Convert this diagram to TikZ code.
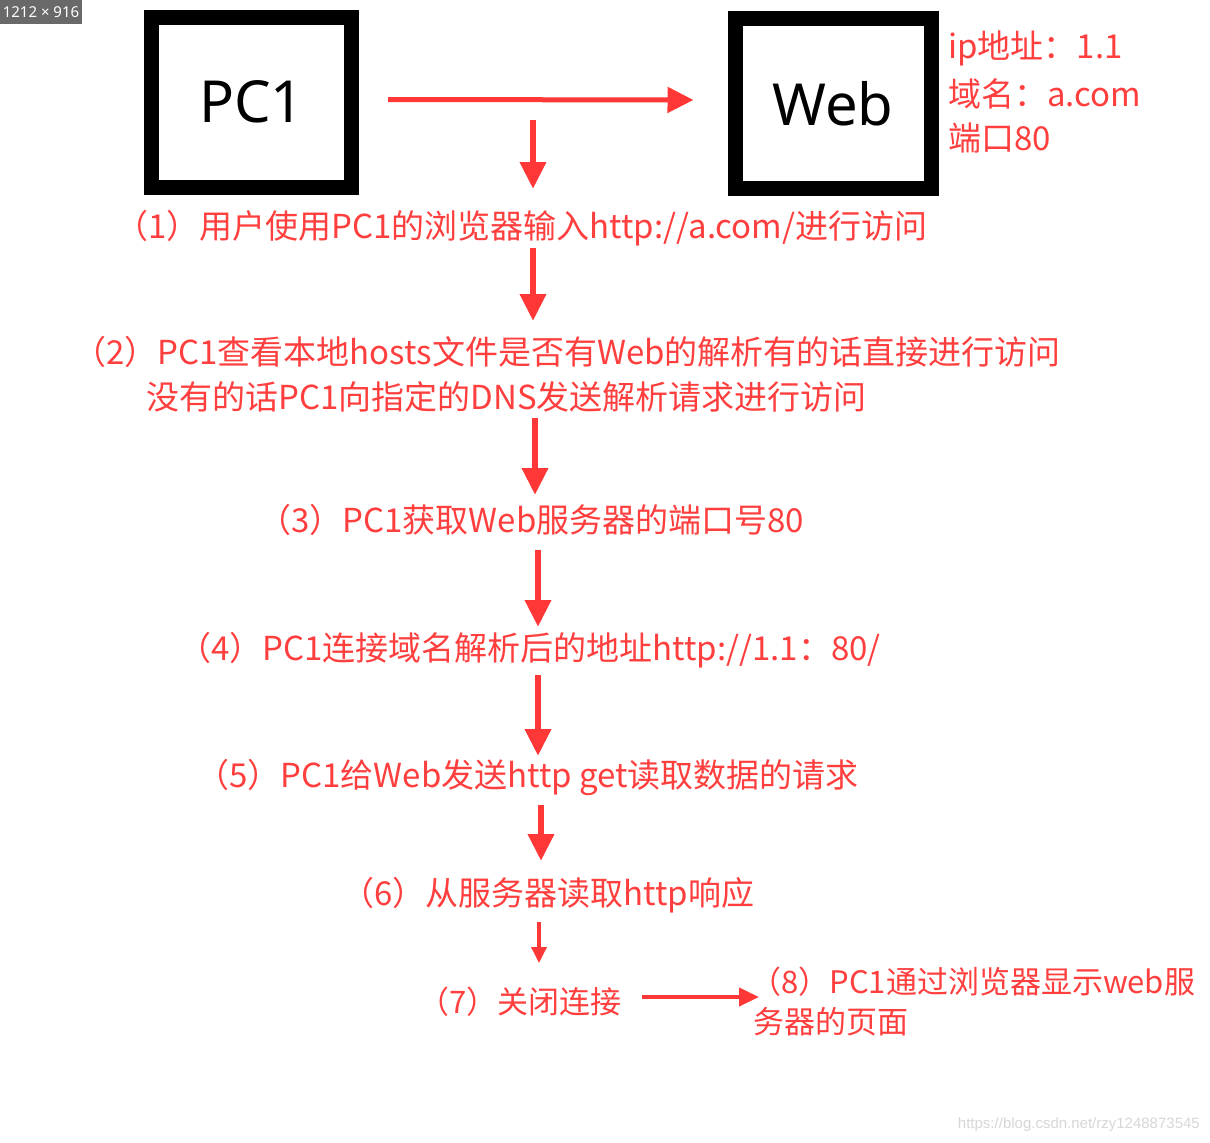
\documentclass[tikz,border=0pt]{standalone}
\usepackage{fontspec}
\setmainfont{Noto Sans}
\newfontfamily\cjk{Noto Sans CJK SC}
\newfontfamily\wmfont{Liberation Sans}
\usetikzlibrary{arrows.meta}
\definecolor{stepred}{RGB}{255,62,62}
\definecolor{arrred}{RGB}{255,55,55}
\definecolor{badgegray}{RGB}{105,105,105}
\definecolor{wmgray}{RGB}{215,215,215}
\begin{document}
\begin{tikzpicture}[x=1pt,y=-1pt,
  hostbox/.style={draw=black,line width=15pt,minimum width=200pt,minimum height=170pt,inner sep=0pt,
    font=\fontsize{58}{60}\selectfont},
  steptext/.style={text=stepred,inner sep=0pt,anchor=west,font=\cjk\fontsize{33}{36}\selectfont},
  smallstep/.style={steptext,font=\cjk\fontsize{31}{34}\selectfont},
  bigdown/.style={draw=arrred,line width=6.5pt,-{Triangle[width=25pt,length=27pt]}},
  smalldown/.style={draw=arrred,line width=3.5pt,-{Triangle[width=15pt,length=16pt]}},
  sidearrow/.style={draw=arrred,line width=5pt,-{Triangle[width=25pt,length=26pt]}},
  sidearrowsmall/.style={draw=arrred,line width=4pt,-{Triangle[width=18pt,length=20pt]}}]
\useasboundingbox (0,0) rectangle (1210,1143);
\fill[white] (0,0) rectangle (1210,1143);

% badge
\fill[badgegray] (0,0) rectangle (82,24);
\node[text=white,inner sep=0pt,font=\fontsize{15}{16}\selectfont] (badge) at (41,12) {1212 × 916};

% hosts
\node[hostbox] (pc1) at (251.5,102) {PC1};
\node[hostbox,minimum width=196pt] (web) at (833,103.5) {Web};

% info
\node[steptext] (info1) at (948,48) {ip地址：1.1};
\node[steptext] (info2) at (948,94) {域名：a.com};
\node[steptext] (info3) at (948,138) {端口80};

% steps
\node[steptext] (s1) at (115,228) {（1）用户使用PC1的浏览器输入http://a.com/进行访问};
\node[steptext] (s2a) at (73,352) {（2）PC1查看本地hosts文件是否有Web的解析有的话直接进行访问};
\node[steptext] (s2b) at (146,397) {没有的话PC1向指定的DNS发送解析请求进行访问};
\node[steptext] (s3) at (258,520) {（3）PC1获取Web服务器的端口号80};
\node[steptext] (s4) at (178,650) {（4）PC1连接域名解析后的地址http://1.1：80/};
\node[steptext] (s5) at (196,777) {（5）PC1给Web发送http get读取数据的请求};
\node[steptext] (s6) at (341,895) {（6）从服务器读取http响应};
\node[smallstep] (s7) at (418,1002) {（7）关闭连接};
\node[smallstep] (s8a) at (750,982) {（8）PC1通过浏览器显示web服};
\node[smallstep] (s8b) at (753,1022) {务器的页面};

% watermark
\node[text=wmgray,inner sep=0pt,anchor=east,font=\wmfont\fontsize{15}{16}\selectfont] (wm) at (1200,1125) {https://blog.csdn.net/rzy1248873545};

% arrow end coordinates
\coordinate (a1t) at (533,120);  \coordinate (a1h) at (533,189);
\coordinate (a2t) at (533,248);  \coordinate (a2h) at (533,321);
\coordinate (a3t) at (535,418);  \coordinate (a3h) at (535,495);
\coordinate (a4t) at (538,550);  \coordinate (a4h) at (538,627);
\coordinate (a5t) at (538,675);  \coordinate (a5h) at (538,756);
\coordinate (a6t) at (541,805);  \coordinate (a6h) at (541,861);
\coordinate (a7t) at (539,922);  \coordinate (a7h) at (539,963);

% connectors
\draw[sidearrow,shorten <=29pt,shorten >=34pt] ([yshift=2.5pt]pc1.east) -- ([yshift=3.5pt]web.west);
\draw[bigdown] (a1t) -- (a1h);
\draw[bigdown] (a2t) -- (a2h);
\draw[bigdown] (a3t) -- (a3h);
\draw[bigdown] (a4t) -- (a4h);
\draw[bigdown] (a5t) -- (a5h);
\draw[bigdown] (a6t) -- (a6h);
\draw[smalldown] (a7t) -- (a7h);
\draw[sidearrowsmall,shorten <=20pt] (s7.east |- 0,997) -- ([xshift=9pt]s8a.west |- 0,997);
\end{tikzpicture}
\end{document}
